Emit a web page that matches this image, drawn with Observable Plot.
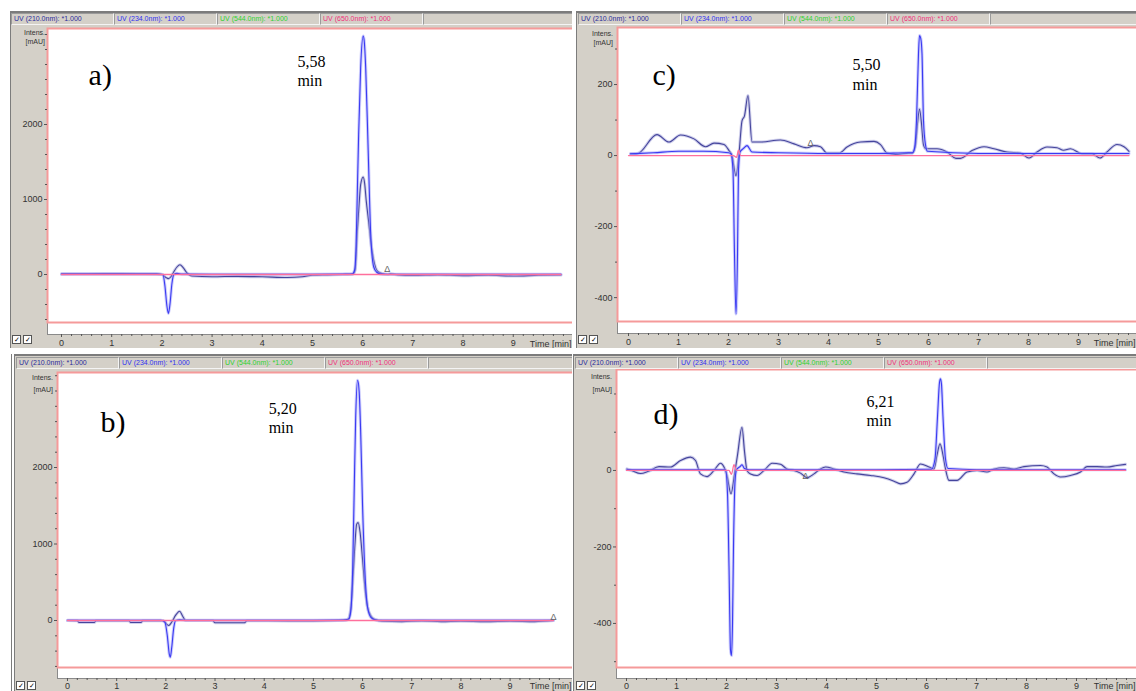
<!DOCTYPE html>
<html><head><meta charset="utf-8">
<script src="https://cdn.jsdelivr.net/npm/d3@7"></script>
<script src="https://cdn.jsdelivr.net/npm/@observablehq/plot@0.6"></script>
<style>
body{margin:0;background:#fff;}
#root{position:relative;width:1136px;height:691px;overflow:hidden;background:#fff;font-family:"Liberation Sans",Arial,sans-serif;}
.panel{position:absolute;background:#d4d0c8;overflow:hidden;}
.panel svg{position:absolute;left:0;top:0;max-width:none !important;}
.hdr{position:absolute;height:12px;display:flex;}
.cell{box-sizing:border-box;height:12px;border:1px solid;border-color:#9a9a9a #f4f4f4 #f4f4f4 #9a9a9a;font-size:7px;line-height:10px;padding-left:2px;white-space:nowrap;overflow:hidden;}
.ylab{position:absolute;font-size:7px;color:#333;text-align:right;line-height:9px;}
.chk{position:absolute;display:flex;gap:2px;}
.chk span{display:block;width:7px;height:7px;border:1px solid #555;background:#fff;font-size:7px;line-height:7px;text-align:center;color:#000;}
.ln{position:absolute;background:#7c7c7c;}
</style></head><body><div id="root"></div>
<script>
// ---------- data (time [min], intensity [mAU]) ----------
const a210 = [[0,8],[0.5,10],[1.0,12],[1.5,10],[1.9,8],[2.0,0],[2.08,-40],[2.13,-55],[2.18,-30],[2.24,40],[2.3,100],[2.36,130],[2.42,95],[2.5,20],[2.6,-20],[3.0,-30],[3.5,-25],[4.0,-30],[4.5,-40],[4.8,-30],[5.0,-10],[5.3,-5],[5.6,0],[5.8,5],[5.85,60],[5.89,540],[5.93,950],[5.96,1200],[6.01,1300],[6.04,1210],[6.07,990],[6.12,700],[6.16,450],[6.22,190],[6.3,40],[6.4,10],[6.5,0],[6.55,8],[6.7,-5],[7.0,-12],[7.5,-5],[8.0,-15],[8.5,-10],[9.0,-20],[9.5,-10],[9.95,-5]];
const a234 = [[0,5],[1.9,5],[2.02,0],[2.06,-150],[2.1,-420],[2.13,-520],[2.16,-400],[2.2,-120],[2.24,0],[2.3,15],[2.4,5],[3.0,3],[4.0,3],[5.0,3],[5.7,5],[5.8,10],[5.84,60],[5.87,400],[5.89,990],[5.92,1870],[5.96,2760],[6.01,3180],[6.03,3120],[6.06,2760],[6.11,1650],[6.16,540],[6.22,100],[6.28,30],[6.35,8],[6.45,3],[7.0,3],[8.0,3],[9.0,3],[9.95,3]];
const a650 = [[0,0],[9.95,0]];

const b210 = [[0,0],[0.2,-3],[0.23,-25],[0.55,-25],[0.58,-3],[1.25,-3],[1.28,-25],[1.5,-25],[1.53,-3],[1.95,-3],[2.02,-50],[2.06,-65],[2.12,-20],[2.2,70],[2.28,122],[2.34,60],[2.4,0],[2.95,0],[3.0,-30],[3.6,-30],[3.65,-3],[4.5,-5],[5.0,-5],[5.5,0],[5.7,10],[5.76,150],[5.8,500],[5.84,950],[5.88,1260],[5.91,1280],[5.95,1150],[6.0,800],[6.05,420],[6.1,180],[6.17,60],[6.25,15],[6.4,-10],[6.8,-15],[7.2,-5],[7.6,-15],[8.0,-10],[8.5,-15],[9.0,-10],[9.5,-15],[9.88,0]];
const b234 = [[0,3],[1.9,3],[1.98,-20],[2.03,-200],[2.07,-440],[2.09,-480],[2.12,-350],[2.16,-100],[2.2,0],[2.28,10],[2.4,3],[3.0,3],[4.0,3],[5.0,3],[5.6,5],[5.72,20],[5.76,120],[5.8,700],[5.83,1700],[5.86,2650],[5.9,3140],[5.93,3000],[5.96,2500],[6.0,1500],[6.05,600],[6.1,180],[6.17,40],[6.25,10],[6.4,3],[7.0,3],[8.0,3],[9.0,3],[9.88,3]];
const b650 = [[0,0],[9.88,0]];

const c210 = [[0.04,5],[0.17,5],[0.57,59],[0.81,38],[1.04,58],[1.31,47],[1.54,25],[1.71,35],[1.91,31],[2.01,14],[2.07,0],[2.15,-57],[2.21,5],[2.27,98],[2.32,112],[2.39,169],[2.47,38],[2.64,38],[3.04,44],[3.31,33],[3.57,22],[3.71,28],[3.84,25],[3.97,7],[4.21,7],[4.37,24],[4.64,38],[4.91,40],[5.04,31],[5.17,7],[5.34,3],[5.61,7],[5.68,7],[5.74,30],[5.78,90],[5.82,131],[5.86,90],[5.9,30],[5.95,19],[6.17,19],[6.37,10],[6.55,-8],[6.64,-8],[6.87,14],[7.11,25],[7.31,19],[7.57,10],[7.84,7],[8.01,-7],[8.17,10],[8.37,24],[8.57,22],[8.7,15],[8.84,19],[9.07,5],[9.27,5],[9.43,-7],[9.57,10],[9.77,31],[9.91,25],[10.01,12]];
const c234 = [[0.04,5],[0.5,8],[1.0,12],[1.5,12],[2.0,8],[2.05,5],[2.09,-42],[2.12,-277],[2.15,-446],[2.18,-277],[2.2,-40],[2.23,10],[2.3,20],[2.37,28],[2.47,10],[3.0,8],[4.0,6],[5.0,6],[5.6,8],[5.68,8],[5.72,20],[5.76,98],[5.8,287],[5.82,338],[5.845,330],[5.87,287],[5.9,98],[5.94,30],[5.98,12],[7.0,6],[8.0,6],[9.0,6],[10.01,6]];
const c650 = [[0,0],[2.1,0],[2.16,-5],[2.2,15],[2.24,0],[10.01,0]];

const d210 = [[0.01,4],[0.1,0],[0.28,-8],[0.44,-2],[0.65,10],[0.88,9],[1.08,26],[1.28,35],[1.38,26],[1.48,-9],[1.61,-16],[1.75,0],[1.88,19],[1.95,9],[2.01,-13],[2.09,-61],[2.16,-10],[2.22,40],[2.31,113],[2.36,50],[2.41,0],[2.48,-9],[2.61,-13],[2.78,4],[2.91,19],[3.08,16],[3.21,4],[3.35,0],[3.48,-7],[3.61,-19],[3.75,-9],[3.88,4],[3.98,9],[4.15,4],[4.35,-4],[4.61,-9],[4.88,-13],[5.15,-19],[5.35,-28],[5.48,-35],[5.61,-31],[5.75,-9],[5.88,17],[6.05,9],[6.15,4],[6.21,40],[6.27,70],[6.33,40],[6.38,4],[6.45,-26],[6.61,-26],[6.81,-4],[7.01,0],[7.21,-4],[7.35,4],[7.55,7],[7.75,4],[7.95,10],[8.28,13],[8.41,9],[8.55,-9],[8.68,-17],[8.88,-13],[9.08,-4],[9.21,10],[9.41,10],[9.61,9],[9.81,13],[9.98,16]];
const d234 = [[0.01,2],[1.0,2],[1.98,2],[2.02,-60],[2.05,-250],[2.08,-470],[2.1,-484],[2.12,-400],[2.14,-200],[2.17,-30],[2.2,2],[2.27,10],[2.31,15],[2.36,5],[2.45,2],[3.0,2],[4.0,2],[5.0,2],[6.1,3],[6.17,30],[6.22,140],[6.26,230],[6.28,240],[6.3,225],[6.33,140],[6.38,30],[6.43,5],[7.0,2],[8.0,2],[9.0,2],[9.98,2]];
const d650 = [[0,0],[2.05,0],[2.1,-10],[2.15,15],[2.2,0],[9.98,0]];

// annotations
const letters = {a: {t:0.54, v:2650, text:"a)"}, b: {t:0.67, v:2590, text:"b)"}, c: {t:0.48, v:225, text:"c)"}, d: {t:0.54, v:146, text:"d)"}};
const retention = {a: {t:4.70, v:2950, text:"5,58\nmin"}, b: {t:4.09, v:2880, text:"5,20\nmin"}, c: {t:4.48, v:278, text:"5,50\nmin"}, d: {t:4.8, v:201, text:"6,21\nmin"}};
const peakMarks = {a: {t:6.49, v:30}, b: {t:9.88, v:10}, c: {t:3.64, v:28}, d: {t:3.58, v:-22}};
const xAxisTitle = "Time [min]";

// ticks
const xMajor = [0,1,2,3,4,5,6,7,8,9];
const xMinor = [0.2,0.4,0.6,0.8,1.2,1.4,1.6,1.8,2.2,2.4,2.6,2.8,3.2,3.4,3.6,3.8,4.2,4.4,4.6,4.8,5.2,5.4,5.6,5.8,6.2,6.4,6.6,6.8,7.2,7.4,7.6,7.8,8.2,8.4,8.6,8.8,9.2,9.4,9.6,9.8,10];
const yMajorAB = [0,1000,2000];
const yMinorAB = [-600,-400,-200,200,400,600,800,1200,1400,1600,1800,2200,2400,2600,2800,3000,3200];
const yMajorC = [-400,-200,0,200];
const yMinorC = [-300,-100,100,300];
const yMajorD = [-400,-200,0];
const yMinorD = [-500,-300,-100,100,200];

// channel header labels
const channels = ["UV (210.0nm): *1.000","UV (234.0nm): *1.000","UV (544.0nm): *1.000","UV (650.0nm): *1.000"];
const channelColors = ["#2b2b9a","#3030f0","#2ed12e","#f0307a"];

const panels = [
  {id:"a", left:10, top:11, width:562, height:337, frameLeft:47, frameTop:28, axisY:334, redInset:12,
   xDomain:[-0.279,10.26], yDomain:[-800,3280], yMajor:yMajorAB, yMinor:yMinorAB, s210:a210, s234:a234, s650:a650,
   hdrTop:13, hdrLeft:11, intens:[45,33,42], chk:[12,335], pad:2, titleDy:9.5},
  {id:"b", left:14, top:356, width:558, height:335, frameLeft:57, frameTop:372, axisY:678, redInset:11,
   xDomain:[-0.203,10.35], yDomain:[-758,3242], yMajor:yMajorAB, yMinor:yMinorAB, s210:b210, s234:b234, s650:b650,
   hdrTop:357, hdrLeft:16, intens:[53,377,389], chk:[16,681], pad:1, titleDy:7.5},
  {id:"c", left:577, top:11, width:559, height:337, frameLeft:617, frameTop:27, axisY:333, redInset:12,
   xDomain:[-0.22,10.24], yDomain:[-501,360.6], yMajor:yMajorC, yMinor:yMinorC, s210:c210, s234:c234, s650:c650,
   hdrTop:13, hdrLeft:578, intens:[613,34,43], chk:[578,335], pad:2, titleDy:9.5},
  {id:"d", left:573, top:356, width:563, height:335, frameLeft:616, frameTop:369, axisY:678, redInset:11,
   xDomain:[-0.2,10.28], yDomain:[-544,264], yMajor:yMajorD, yMinor:yMinorD, s210:d210, s234:d234, s650:d650,
   hdrTop:357, hdrLeft:575, intens:[612,375,388], chk:[576,681], pad:1, titleDy:7.5}
];

const root = document.getElementById("root");
const X = d => d[0], Y = d => d[1];
function trace(data, core, halo, w) {
  return [
    Plot.line(data, {x: X, y: Y, stroke: halo, strokeWidth: w + 2, strokeOpacity: 0.55, curve: "monotone-x"}),
    Plot.line(data, {x: X, y: Y, stroke: core, strokeWidth: w, curve: "monotone-x"})
  ];
}

for (const p of panels) {
  const div = document.createElement("div");
  div.className = "panel";
  Object.assign(div.style, {left: p.left + "px", top: p.top + "px", width: p.width + "px", height: p.height + "px"});
  root.appendChild(div);
  const svgW = p.width + 10;
  const mb = p.top + p.height - p.axisY;
  const chart = Plot.plot({
    width: svgW, height: p.height,
    marginLeft: p.frameLeft - p.left, marginRight: 6,
    marginTop: p.frameTop - p.top, marginBottom: mb,
    style: {background: "transparent", fontFamily: "'Liberation Sans', Arial, sans-serif", fontSize: "9px", color: "#222", overflow: "visible", maxWidth: "none"},
    x: {domain: p.xDomain},
    y: {domain: p.yDomain},
    marks: [
      Plot.frame({fill: "white", stroke: "#8a8a8a"}),
      Plot.frame({stroke: "#f59a9a", strokeWidth: 2, insetBottom: p.redInset}),
      ...trace(p.s210, "#45459c", "#a9a9dc", 1.1),
      ...trace(p.s234, "#3a3af2", "#a4a4fa", 1.1),
      Plot.line(p.s650, {x: X, y: Y, stroke: "#ff6f9c", strokeWidth: 1.3, curve: "monotone-x"}),
      Plot.text([peakMarks[p.id]], {x: "t", y: "v", text: () => "Δ", fontSize: 9, fill: "#666", lineAnchor: "bottom"}),
      Plot.text([letters[p.id]], {x: "t", y: "v", text: "text", fontFamily: "'Liberation Serif', 'Times New Roman', serif", fontSize: 30, textAnchor: "start", lineAnchor: "middle", fill: "#000"}),
      Plot.text([retention[p.id]], {x: "t", y: "v", text: "text", fontFamily: "'Liberation Serif', 'Times New Roman', serif", fontSize: 16, textAnchor: "start", lineAnchor: "top", lineHeight: 1.2, fill: "#000"}),
      Plot.axisY(p.yMinor, {tickSize: 2, tickFormat: () => "", label: null, stroke: "#555"}),
      Plot.axisY(p.yMajor, {tickSize: 3, tickPadding: 2, tickFormat: d => String(d), label: null, stroke: "#555", fill: "#333", fontSize: 9}),
      Plot.axisX(xMinor, {tickSize: 2, tickFormat: () => "", label: null, stroke: "#555"}),
      Plot.axisX(xMajor, {tickSize: 3, tickPadding: p.pad, tickFormat: d => String(d), label: null, stroke: "#555", fill: "#333", fontSize: 9}),
      Plot.text([xAxisTitle], {frameAnchor: "bottom-right", text: d => d, textAnchor: "end", lineAnchor: "middle", dx: -5, dy: p.titleDy, fontSize: 9, fill: "#333"})
    ]
  });
  chart.style.maxWidth = "none";
  div.appendChild(chart);

  // channel header bar
  const hdr = document.createElement("div");
  hdr.className = "hdr";
  Object.assign(hdr.style, {left: (p.hdrLeft - p.left) + "px", top: (p.hdrTop - p.top) + "px"});
  channels.forEach((c, i) => {
    const cell = document.createElement("div");
    cell.className = "cell";
    cell.style.width = "103px";
    cell.style.color = channelColors[i];
    cell.textContent = c;
    hdr.appendChild(cell);
  });
  const rest = document.createElement("div");
  rest.className = "cell";
  rest.style.width = "160px";
  hdr.appendChild(rest);
  div.appendChild(hdr);

  // y-axis unit label
  const yl = document.createElement("div");
  yl.className = "ylab";
  Object.assign(yl.style, {right: (p.left + p.width - p.intens[0]) + "px", top: (p.intens[1] - p.top - 5) + "px"});
  yl.innerHTML = "Intens.<br>[mAU]";
  yl.style.lineHeight = (p.intens[2] - p.intens[1]) + "px";
  div.appendChild(yl);

  // checkboxes
  const ck = document.createElement("div");
  ck.className = "chk";
  Object.assign(ck.style, {left: (p.chk[0] - p.left) + "px", top: (p.chk[1] - p.top) + "px"});
  ck.innerHTML = "<span>✓</span><span>✓</span>";
  div.appendChild(ck);
}

// window borders
const borders = [
  [10,11,562,2],[10,11,1,337],
  [14,354,558,2],[11,354,1,337],[14,354,1,337],
  [577,11,559,2],[576,11,1,337],
  [573,354,563,2],[573,354,1,337]
];
for (const [l,t,w,h] of borders) {
  const e = document.createElement("div");
  e.className = "ln";
  Object.assign(e.style, {left: l + "px", top: t + "px", width: w + "px", height: h + "px"});
  root.appendChild(e);
}
</script></body></html>
